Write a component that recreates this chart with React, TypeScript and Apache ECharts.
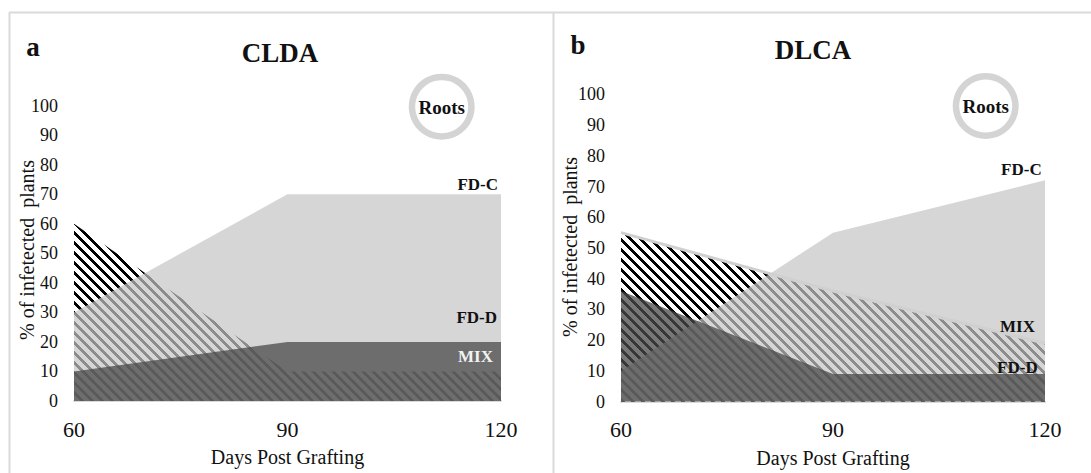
import React, { useEffect, useRef } from "react";
import * as echarts from "echarts";

// ---------- data ----------
const days = [60, 90, 120];
const yTickStep = 10;

// Panel a: CLDA (roots)
const cldaFDC = [30, 70, 70];
const cldaMIX = [60, 10, 10];
const cldaFDD = [10, 20, 20];

// Panel b: DLCA (roots)
const dlcaFDC = [10, 55, 72];
const dlcaMIX = [55, 36, 19];
const dlcaFDD = [36, 9, 9];

const panelTitles = ["CLDA", "DLCA"];
const panelLetters = ["a", "b"];
const xName = "Days Post Grafting";
const yName = "% of infetected  plants";

const FONT = "'Liberation Serif', 'Times New Roman', serif";
const FDC_FILL = "rgba(197,197,197,0.71)";
const FDD_FILL = "rgba(73,73,73,0.75)";

function makeHatch(): HTMLCanvasElement {
  const c = document.createElement("canvas");
  c.width = 10;
  c.height = 10;
  const ctx = c.getContext("2d")!;
  const img = ctx.createImageData(10, 10);
  for (let y = 0; y < 10; y++) {
    for (let x = 0; x < 10; x++) {
      const d = (((x - y) % 10) + 10) % 10;
      const v = d < 4 ? 0 : 255;
      const k = (y * 10 + x) * 4;
      img.data[k] = v;
      img.data[k + 1] = v;
      img.data[k + 2] = v;
      img.data[k + 3] = 255;
    }
  }
  ctx.putImageData(img, 0, 0);
  return c;
}

function pairs(ys: number[]) {
  return days.map((d, i) => [d, ys[i]]);
}

export default function App() {
  const ref = useRef<HTMLDivElement>(null);

  useEffect(() => {
    if (!ref.current) return;
    const chart = echarts.init(ref.current, null, { renderer: "svg" });
    const hatch = { image: makeHatch(), repeat: "repeat", imageWidth: 10, imageHeight: 10 };

    const area = (
      idx: number,
      name: string,
      ys: number[],
      fill: any,
      line?: any
    ) => ({
      type: "line",
      name,
      xAxisIndex: idx,
      yAxisIndex: idx,
      data: pairs(ys),
      symbol: "none",
      silent: true,
      lineStyle: line ?? { width: 0, opacity: 0 },
      areaStyle: { color: fill, opacity: 1 },
    });

    const xAxis = (idx: number) => ({
      gridIndex: idx,
      type: "value",
      min: 60,
      max: 120,
      interval: 30,
      axisLine: { show: true, lineStyle: { color: "#d9d9d9", width: 2 } },
      axisTick: { show: false },
      splitLine: { show: false },
      axisLabel: { fontSize: 22, color: "#111", fontFamily: FONT, margin: 17 },
      name: xName,
      nameLocation: "middle",
      nameGap: 46,
      nameTextStyle: { fontSize: 20, color: "#111", fontFamily: FONT },
    });

    const yAxis = (idx: number) => ({
      gridIndex: idx,
      type: "value",
      min: 0,
      max: 100,
      interval: yTickStep,
      axisLine: { show: false },
      axisTick: { show: false },
      splitLine: { show: false },
      axisLabel: { fontSize: 18, color: "#111", fontFamily: FONT, margin: 16 },
    });

    const txt = (
      x: number,
      y: number,
      text: string,
      size: number,
      align: string,
      color = "#111",
      bold = true,
      rotation = 0
    ) => ({
      type: "text",
      x,
      y,
      rotation,
      silent: true,
      style: {
        text,
        fill: color,
        font: `${bold ? "bold " : ""}${size}px ${FONT}`,
        textAlign: align,
        textVerticalAlign: "middle",
      },
      z: 10,
    });

    chart.setOption({
      animation: false,
      backgroundColor: "#fff",
      grid: [
        { left: 74, right: 590, top: 105.7, bottom: 72 },
        { left: 621, right: 46, top: 94.3, bottom: 71.3 },
      ],
      xAxis: [xAxis(0), xAxis(1)],
      yAxis: [yAxis(0), yAxis(1)],
      series: [
        area(0, "MIX", cldaMIX, hatch),
        area(0, "FD-C", cldaFDC, FDC_FILL),
        area(0, "FD-D", cldaFDD, FDD_FILL),
        area(1, "MIX", dlcaMIX, hatch, { width: 3, color: "#d0d0d0" }),
        area(1, "FD-C", dlcaFDC, FDC_FILL),
        area(1, "FD-D", dlcaFDD, FDD_FILL),
      ],
      graphic: [
        // frames
        { type: "line", shape: { x1: 9, y1: 12.5, x2: 1091, y2: 12.5 }, style: { stroke: "#dadada", lineWidth: 2 }, silent: true },
        { type: "line", shape: { x1: 9.5, y1: 12, x2: 9.5, y2: 473 }, style: { stroke: "#dadada", lineWidth: 2 }, silent: true },
        { type: "line", shape: { x1: 553.5, y1: 12, x2: 553.5, y2: 473 }, style: { stroke: "#dadada", lineWidth: 2 }, silent: true },
        // y axis names
        txt(27, 250, yName, 20, "center", "#111", false, Math.PI / 2),
        txt(570, 247, yName, 20, "center", "#111", false, Math.PI / 2),
        // panel letters and titles
        txt(33, 47, panelLetters[0], 27, "center"),
        txt(578, 45, panelLetters[1], 27, "center"),
        txt(280, 53, panelTitles[0], 27, "center"),
        txt(813, 50, panelTitles[1], 27, "center"),
        // Roots rings
        { type: "ring", shape: { cx: 441.7, cy: 106.7, r: 33, r0: 26.5 }, style: { fill: "#d4d4d4" }, silent: true },
        { type: "ring", shape: { cx: 985.7, cy: 106, r: 33, r0: 26.5 }, style: { fill: "#d4d4d4" }, silent: true },
        txt(441.7, 107, "Roots", 19, "center"),
        txt(985.7, 106, "Roots", 19, "center"),
        // series labels panel a
        txt(498, 184, "FD-C", 17, "right"),
        txt(497, 317, "FD-D", 17, "right"),
        txt(493, 356, "MIX", 17, "right", "#f2f2f2"),
        // series labels panel b
        txt(1041.7, 169, "FD-C", 17, "right"),
        txt(1035, 326, "MIX", 17, "right"),
        txt(1037.7, 367, "FD-D", 17, "right"),
      ],
    });

    return () => chart.dispose();
  }, []);

  return (
    <div
      ref={ref}
      style={{ position: "fixed", left: 0, top: 0, width: 1091, height: 473 }}
    />
  );
}
